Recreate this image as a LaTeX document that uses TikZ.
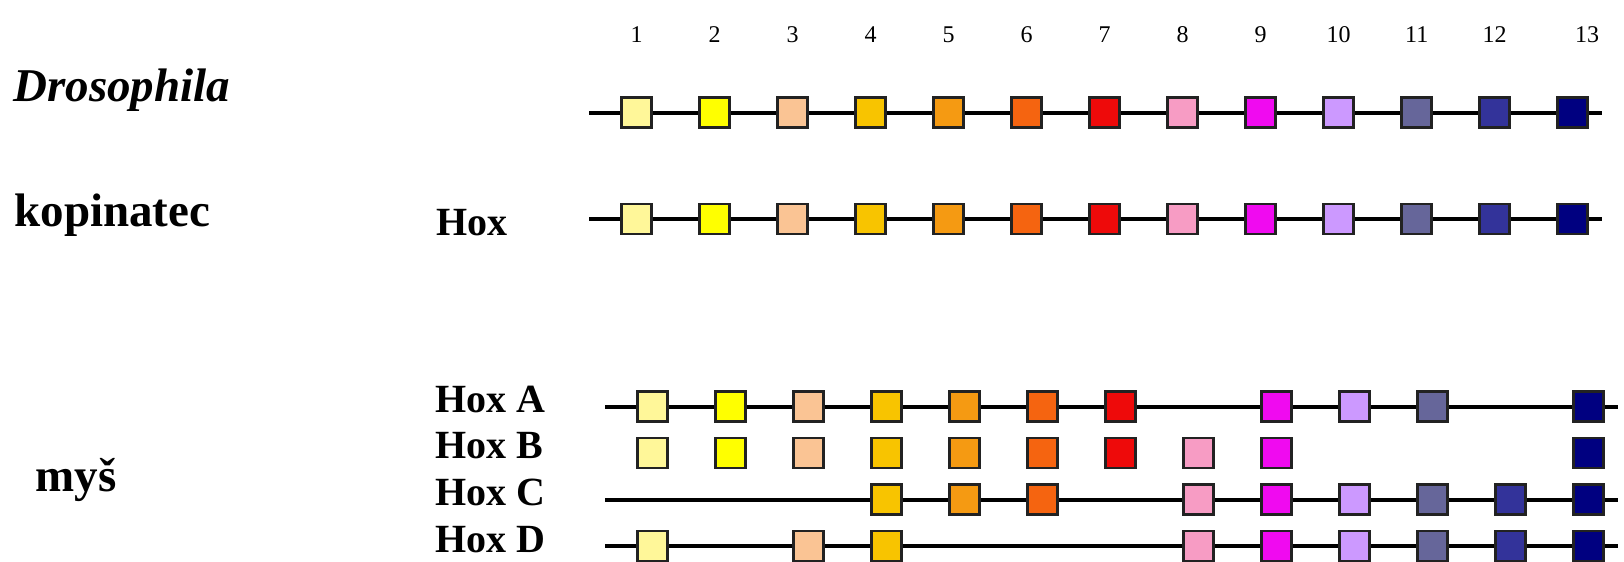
\documentclass[tikz,border=0pt]{standalone}
\usepackage{fontspec}
\setmainfont{Liberation Serif}
\definecolor{c1}{HTML}{FFF799}
\definecolor{c2}{HTML}{FFFF00}
\definecolor{c3}{HTML}{FAC494}
\definecolor{c4}{HTML}{F8C400}
\definecolor{c5}{HTML}{F59A12}
\definecolor{c6}{HTML}{F56410}
\definecolor{c7}{HTML}{EE0A0A}
\definecolor{c8}{HTML}{F79CC4}
\definecolor{c9}{HTML}{F00AF0}
\definecolor{c10}{HTML}{CC99FF}
\definecolor{c11}{HTML}{66669A}
\definecolor{c12}{HTML}{33339A}
\definecolor{c13}{HTML}{000080}
\definecolor{boxline}{HTML}{222222}
\begin{document}
\begin{tikzpicture}[x=0.5pt,y=-0.5pt,
  gene/.style={draw=boxline, line width=1.3pt, minimum size=15pt, inner sep=0pt},
  chrom/.style={line width=2pt, black},
  lbl/.style={font=\bfseries\fontsize{23.5}{27}\selectfont, anchor=base west, inner sep=0pt},
  hoxlbl/.style={font=\bfseries\fontsize{20}{24}\selectfont, anchor=base west, inner sep=0pt},
  num/.style={font=\fontsize{12}{14}\selectfont, anchor=base, inner sep=0pt}]
\useasboundingbox (0,0) rectangle (1624,562);

% numbers
\foreach \i in {1,...,12} \node[num] (n\i) at ({636.7+(\i-1)*78},42.5) {\i};
\node[num] (n13) at (1587,42.5) {13};

% labels
\node[lbl] (dros) at (13,101) {\itshape Drosophila};
\node[lbl] (kop) at (14,226) {kopinatec};
\node[lbl] (mys) at (35,491) {myš};
\node[hoxlbl] (hox) at (436,235) {Hox};
\node[hoxlbl] (hoxA) at (435,412.7) {Hox A};
\node[hoxlbl] (hoxB) at (435,458.7) {Hox B};
\node[hoxlbl] (hoxC) at (435,505.3) {Hox C};
\node[hoxlbl] (hoxD) at (435,552) {Hox D};

% chromosome lines
\coordinate (dL) at (589,112.5); \coordinate (dR) at (1602,112.5);
\coordinate (kL) at (589,219);   \coordinate (kR) at (1602,219);
\coordinate (aL) at (605,406.5); \coordinate (aR) at (1618,406.5);
\coordinate (cL) at (605,499.5); \coordinate (cR) at (1618,499.5);
\coordinate (eL) at (605,546);   \coordinate (eR) at (1618,546);
\draw[chrom] (dL) -- (dR);
\draw[chrom] (kL) -- (kR);
\draw[chrom] (aL) -- (aR);
\draw[chrom] (cL) -- (cR);
\draw[chrom] (eL) -- (eR);

% genes
\foreach \i in {1,...,13} \node[gene, fill=c\i] (d\i) at ({636.7+(\i-1)*78},112.5) {};
\foreach \i in {1,...,13} \node[gene, fill=c\i] (k\i) at ({636.7+(\i-1)*78},219) {};
\foreach \i in {1,2,3,4,5,6,7,9,10,11,13} \node[gene, fill=c\i] (a\i) at ({652.5+(\i-1)*78},406.5) {};
\foreach \i in {1,2,3,4,5,6,7,8,9,13} \node[gene, fill=c\i] (b\i) at ({652.5+(\i-1)*78},453) {};
\foreach \i in {4,5,6,8,9,10,11,12,13} \node[gene, fill=c\i] (c\i) at ({652.5+(\i-1)*78},499.5) {};
\foreach \i in {1,3,4,8,9,10,11,12,13} \node[gene, fill=c\i] (e\i) at ({652.5+(\i-1)*78},546) {};
\end{tikzpicture}
\end{document}
